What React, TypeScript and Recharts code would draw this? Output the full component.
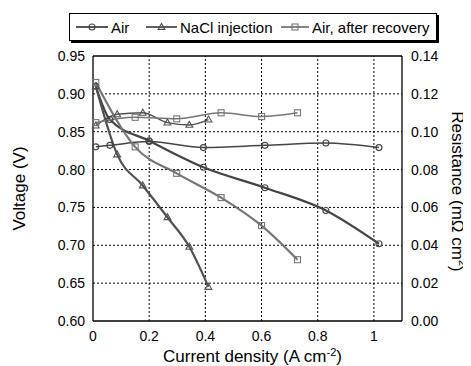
import React from "react";
import { ComposedChart, Line, XAxis, YAxis, ReferenceLine, Legend, Label } from "recharts";

// current density (A cm-2) and readings for each run
const airCurrent = [0.01, 0.06, 0.2, 0.393, 0.612, 0.829, 1.018];
const airVoltage = [0.91, 0.866, 0.838, 0.803, 0.776, 0.746, 0.702];
const airResistance = [0.092, 0.0928, 0.0948, 0.0916, 0.0928, 0.094, 0.0916];

const naclCurrent = [0.01, 0.086, 0.177, 0.265, 0.343, 0.411];
const naclVoltage = [0.91, 0.82, 0.779, 0.737, 0.698, 0.645];
const naclResistance = [0.1032, 0.1092, 0.11, 0.1048, 0.1036, 0.1064];

const recoveryCurrent = [0.01, 0.15, 0.298, 0.456, 0.6, 0.728];
const recoveryVoltage = [0.915, 0.83, 0.795, 0.763, 0.726, 0.681];
const recoveryResistance = [0.1048, 0.1076, 0.1068, 0.11, 0.108, 0.11];

const currentTicks = [0, 0.2, 0.4, 0.6, 0.8, 1.0];
const voltageTicks = [0.6, 0.65, 0.7, 0.75, 0.8, 0.85, 0.9, 0.95];
const resistanceTicks = [0, 0.02, 0.04, 0.06, 0.08, 0.1, 0.12, 0.14];
const legendLabels = ["Air", "NaCl injection", "Air, after recovery"];

const steps = (from: number, to: number, step: number) =>
  Array.from({ length: Math.round((to - from) / step) + 1 }, (_, i) => Math.round((from + i * step) * 1000) / 1000);
const currentMinor = steps(0, 1.1, 0.05);
const voltageMinor = steps(0.6, 0.95, 0.01);
const resistanceMinor = steps(0, 0.14, 0.005);

const toPoints = (xs: number[], ys: number[]) => xs.map((x, i) => ({ x, y: ys[i] }));

type Shape = "circle" | "triangle" | "square";

const AIR = "#454545";
const NACL = "#505050";
const RECOVERY = "#767676";

function Marker({ shape, cx, cy, color }: { shape: Shape; cx: number; cy: number; color: string }) {
  if (shape === "circle") return <circle cx={cx} cy={cy} r={3} fill="none" stroke={color} strokeWidth={1.1} />;
  if (shape === "triangle")
    return (
      <polygon
        points={`${cx},${cy - 3.6} ${cx - 3.4},${cy + 2.4} ${cx + 3.4},${cy + 2.4}`}
        fill="none"
        stroke={color}
        strokeWidth={1.1}
      />
    );
  return <rect x={cx - 3} y={cy - 3} width={6} height={6} fill="none" stroke={color} strokeWidth={1.1} />;
}

const dotFor = (shape: Shape, color: string) => (p: any) => {
  if (p.cx == null || p.cy == null) return <g key={p.index} />;
  return <Marker key={p.index} shape={shape} cx={p.cx} cy={p.cy} color={color} />;
};

const legendItems: { shape: Shape; color: string; left: number; width: number }[] = [
  { shape: "circle", color: AIR, left: 6, width: 32 },
  { shape: "triangle", color: NACL, left: 76, width: 31 },
  { shape: "square", color: RECOVERY, left: 211, width: 28 },
];

function ChartLegend() {
  return (
    <div
      style={{
        position: "relative",
        width: 366,
        height: 26,
        border: "1px solid #000",
        boxShadow: "2px 2px 0 #000",
        background: "#fff",
        fontSize: 15,
        color: "#000",
      }}
    >
      {legendItems.map((item, i) => (
        <div
          key={legendLabels[i]}
          style={{ position: "absolute", left: item.left, top: 0, height: 26, display: "flex", alignItems: "center" }}
        >
          <svg width={item.width} height={10}>
            <line x1={0} y1={5} x2={item.width} y2={5} stroke={item.color} strokeWidth={1.8} />
            <Marker shape={item.shape} cx={item.width / 2} cy={5} color={item.color} />
          </svg>
          <span style={{ marginLeft: 3, whiteSpace: "nowrap" }}>{legendLabels[i]}</span>
        </div>
      ))}
    </div>
  );
}

const frame = { stroke: "#000", strokeWidth: 1.3 };
const tickStyle = { fontSize: 14, fill: "#000" };
const gridLine = { stroke: "#000", strokeDasharray: "2 2", strokeWidth: 1 };

export default function App() {
  return (
    <div style={{ fontFamily: "'Liberation Sans', Arial, sans-serif", width: 463, height: 358 }}>
      <ComposedChart width={463} height={358} margin={{ top: 48, right: 24, bottom: 15, left: 25 }}>
        <XAxis
          xAxisId="x"
          type="number"
          dataKey="x"
          domain={[0, 1.1]}
          ticks={currentTicks}
          interval={0}
          tickFormatter={(v: number) => String(v)}
          tickLine={false}
          tickSize={8}
          tickMargin={2}
          axisLine={frame}
          height={30}
          tick={tickStyle}
        >
          <Label
            content={({ viewBox }: any) => (
              <text x={viewBox.x + viewBox.width / 2 + 5} y={viewBox.y + 41} textAnchor="middle" fontSize={17} fill="#000">
                Current density (A cm
                <tspan dy={-6} fontSize={11}>-2</tspan>
                <tspan dy={6}>)</tspan>
              </text>
            )}
          />
        </XAxis>
        <XAxis xAxisId="xb" type="number" dataKey="x" domain={[0, 1.1]} ticks={currentMinor} interval={0} mirror tick={false} tickSize={3} axisLine={false} tickLine={{ stroke: "#000" }} />
        <XAxis xAxisId="xt" orientation="top" type="number" dataKey="x" domain={[0, 1.1]} ticks={currentMinor} interval={0} mirror tick={false} tickSize={3} axisLine={frame} tickLine={{ stroke: "#000" }} />
        <YAxis
          yAxisId="v"
          domain={[0.6, 0.95]}
          ticks={voltageTicks}
          interval={0}
          tickFormatter={(v: number) => v.toFixed(2)}
          tickLine={false}
          tickSize={6}
          tickMargin={2}
          axisLine={frame}
          width={60}
          tick={tickStyle}
          allowDataOverflow
        >
          <Label
            content={({ viewBox }: any) => {
              const x = viewBox.x - 14;
              const y = viewBox.y + viewBox.height / 2;
              return (
                <text x={x} y={y} transform={`rotate(-90 ${x} ${y})`} textAnchor="middle" dominantBaseline="central" fontSize={17} fill="#000">
                  Voltage (V)
                </text>
              );
            }}
          />
        </YAxis>
        <YAxis yAxisId="vm" domain={[0.6, 0.95]} ticks={voltageMinor} interval={0} mirror tick={false} tickSize={3} axisLine={false} tickLine={{ stroke: "#000" }} allowDataOverflow />
        <YAxis
          yAxisId="r"
          orientation="right"
          domain={[0, 0.14]}
          ticks={resistanceTicks}
          interval={0}
          tickFormatter={(v: number) => v.toFixed(2)}
          tickLine={false}
          tickSize={7}
          tickMargin={2}
          axisLine={frame}
          width={45}
          tick={tickStyle}
          allowDataOverflow
        >
          <Label
            content={({ viewBox }: any) => {
              const x = viewBox.x + 55;
              const y = viewBox.y + viewBox.height / 2 + 3;
              return (
                <text x={x} y={y} transform={`rotate(90 ${x} ${y})`} textAnchor="middle" dominantBaseline="central" fontSize={17} fill="#000">
                  Resistance (m{"\u03A9"} cm
                  <tspan dy={-6} fontSize={11}>2</tspan>
                  <tspan dy={6}>)</tspan>
                </text>
              );
            }}
          />
        </YAxis>
        <YAxis yAxisId="rm" orientation="right" domain={[0, 0.14]} ticks={resistanceMinor} interval={0} mirror tick={false} tickSize={3} axisLine={false} tickLine={{ stroke: "#000" }} allowDataOverflow />

        {currentTicks.slice(1).map((t) => (
          <ReferenceLine key={`gx${t}`} xAxisId="x" yAxisId="v" x={t} {...gridLine} />
        ))}
        {voltageTicks.slice(1, -1).map((t) => (
          <ReferenceLine key={`gy${t}`} xAxisId="x" yAxisId="v" y={t} {...gridLine} />
        ))}

        <Line xAxisId="x" yAxisId="v" data={toPoints(airCurrent, airVoltage)} dataKey="y" type="monotone" stroke={AIR} strokeWidth={2.2} dot={dotFor("circle", AIR)} isAnimationActive={false} />
        <Line xAxisId="x" yAxisId="r" data={toPoints(airCurrent, airResistance)} dataKey="y" type="monotone" stroke={AIR} strokeWidth={1.5} dot={dotFor("circle", AIR)} isAnimationActive={false} />
        <Line xAxisId="x" yAxisId="v" data={toPoints(naclCurrent, naclVoltage)} dataKey="y" type="monotone" stroke={NACL} strokeWidth={2.2} dot={dotFor("triangle", NACL)} isAnimationActive={false} />
        <Line xAxisId="x" yAxisId="r" data={toPoints(naclCurrent, naclResistance)} dataKey="y" type="monotone" stroke={NACL} strokeWidth={1.5} dot={dotFor("triangle", NACL)} isAnimationActive={false} />
        <Line xAxisId="x" yAxisId="v" data={toPoints(recoveryCurrent, recoveryVoltage)} dataKey="y" type="monotone" stroke={RECOVERY} strokeWidth={2.2} dot={dotFor("square", RECOVERY)} isAnimationActive={false} />
        <Line xAxisId="x" yAxisId="r" data={toPoints(recoveryCurrent, recoveryResistance)} dataKey="y" type="monotone" stroke={RECOVERY} strokeWidth={1.5} dot={dotFor("square", RECOVERY)} isAnimationActive={false} />

        <Legend
          layout="horizontal"
          verticalAlign="middle"
          align="center"
          wrapperStyle={{ top: 5, left: 61, width: 370, height: 30 }}
          content={() => <ChartLegend />}
        />
      </ComposedChart>
    </div>
  );
}
